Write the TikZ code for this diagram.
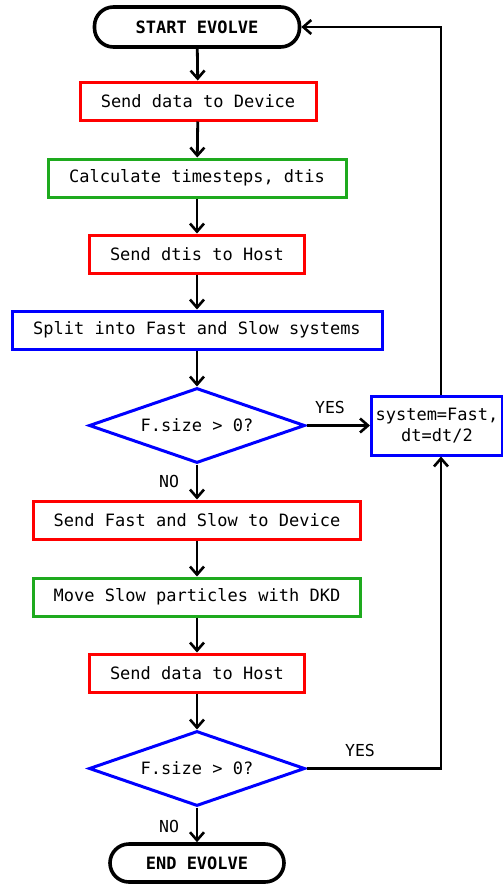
\documentclass[tikz,border=0pt]{standalone}
\usepackage{fontspec}
\setmainfont{DejaVu Sans Mono}
\usetikzlibrary{arrows.meta,shapes.geometric}
\definecolor{cred}{RGB}{255,0,0}
\definecolor{cgreen}{RGB}{30,170,30}
\definecolor{cblue}{RGB}{0,0,255}
\begin{document}
\begin{tikzpicture}[x=1pt,y=-1pt,
  every node/.style={font=\fontsize{17}{21}\selectfont, inner sep=0pt},
  terminal/.style={draw=black, line width=3.6pt, rounded corners=19pt, font=\fontsize{17}{21}\selectfont\bfseries},
  procbox/.style={draw=#1, line width=3pt, minimum height=38pt},
  decision/.style={draw=cblue, line width=3pt, diamond, aspect=2.88, minimum width=216pt, minimum height=75pt},
  flow/.style={draw=black, line width=2.8pt, -{Straight Barb[length=8pt,width=14pt,line width=2.6pt]}},
  lbl/.style={font=\fontsize{16.5}{20}\selectfont}]
\useasboundingbox (0,0) rectangle (503,884);

\node[terminal, minimum width=205pt, minimum height=40pt] (start) at (197,27) {START EVOLVE};
\node[procbox=cred, minimum width=236pt] (b1) at (198,101) {Send data to Device};
\node[procbox=cgreen, minimum width=298pt] (b2) at (197,178) {Calculate timesteps, dtis};
\node[procbox=cred, minimum width=215pt] (b3) at (197,254) {Send dtis to Host};
\node[procbox=cblue, minimum width=370pt] (b4) at (197,330) {Split into Fast and Slow systems};
\node[decision] (d1) at (197,425.5) {F.size > 0?};
\node[procbox=cblue, minimum width=131pt, minimum height=59pt, align=center] (fast) at (437,425.5) {system=Fast,\\dt=dt/2};
\node[procbox=cred, minimum width=327pt] (b5) at (197,520) {Send Fast and Slow to Device};
\node[procbox=cgreen, minimum width=327pt] (b6) at (197,597) {Move Slow particles with DKD};
\node[procbox=cred, minimum width=215pt] (b7) at (197,673) {Send data to Host};
\node[decision] (d2) at (197,768.5) {F.size > 0?};
\node[terminal, minimum width=174pt, minimum height=38pt] (end) at (197,863) {END EVOLVE};

\node[lbl] (yes1) at (330,407) {YES};
\node[lbl] (no1) at (169,481) {NO};
\node[lbl] (yes2) at (360,750) {YES};
\node[lbl] (no2) at (169,826) {NO};

\coordinate (upright) at (441,27);
\coordinate (lowright) at (441,768.5);

\draw[flow] (start) -- (b1);
\draw[flow] (b1) -- (b2);
\draw[flow] (b2) -- (b3);
\draw[flow] (b3) -- (b4);
\draw[flow] (b4) -- (d1);
\draw[flow] (d1) -- (fast);
\draw[flow] (d1) -- (b5);
\draw[flow] (b5) -- (b6);
\draw[flow] (b6) -- (b7);
\draw[flow] (b7) -- (d2);
\draw[flow] (d2) -- (end);
\draw[flow] (fast.north -| upright) -- (upright) -- (start.east);
\draw[flow] (d2.east) -- (lowright) -- (fast.south -| lowright);
\end{tikzpicture}
\end{document}
